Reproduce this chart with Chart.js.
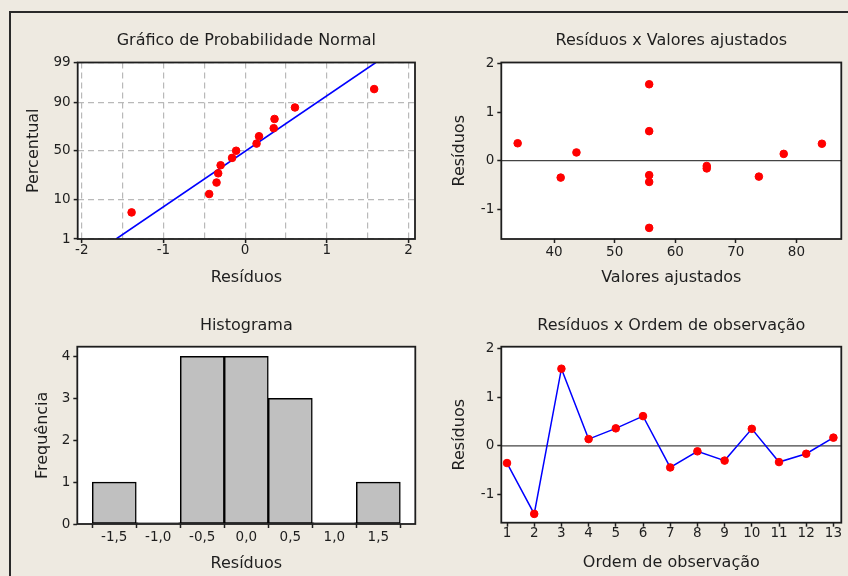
<!DOCTYPE html>
<html>
<head>
<meta charset="utf-8">
<title>Resíduos</title>
<script src="https://cdn.jsdelivr.net/npm/chart.js@4.4.1/dist/chart.umd.min.js"></script>
<style>
  body { margin: 0; background: #eeeae1; }
  #page { position: relative; width: 848px; height: 576px; overflow: hidden; background: #eeeae1; }
  #frame { position: absolute; left: 9px; top: 11px; width: 900px; height: 600px;
           border-top: 2px solid #2a2a2a; border-left: 2px solid #2a2a2a; }
  canvas { position: absolute; }
</style>
</head>
<body>
<div id="page">
  <div id="frame"></div>
  <canvas id="probChart"  width="424" height="300" style="left:0;top:0"></canvas>
  <canvas id="fitChart"   width="424" height="300" style="left:424px;top:0"></canvas>
  <canvas id="histChart"  width="424" height="276" style="left:0;top:300px"></canvas>
  <canvas id="orderChart" width="424" height="276" style="left:424px;top:300px"></canvas>
</div>
<script>
// residuals and fitted values, in observation order
const observation = [1, 2, 3, 4, 5, 6, 7, 8, 9, 10, 11, 12, 13];
const residuals   = [-0.35, -1.39, 1.58, 0.14, 0.36, 0.61, -0.44, -0.11, -0.30, 0.35, -0.33, -0.16, 0.17];
const fitted      = [41.1, 55.7, 55.7, 77.9, 34.0, 55.7, 55.7, 65.2, 55.7, 84.2, 73.8, 65.2, 43.7];

// normal probability plot: plotting positions (%) of the sorted residuals
const percentPos  = [5.2, 12.7, 20.1, 27.6, 35.1, 42.5, 50.0, 57.5, 64.9, 72.4, 79.9, 87.3, 94.8];
const percentTicks = [1, 10, 50, 90, 99];
const fitLineX    = [-1.58, 1.60];
const fitLineP    = [1, 99];

// histogram bins
const binCenters  = [-1.5, -1.0, -0.5, 0.0, 0.5, 1.0, 1.5];
const binCounts   = [1, 0, 4, 4, 3, 0, 1];

const INK = '#1e1e1e';
const RED = '#ff0000';
const BLUE = '#0000ff';

Chart.defaults.font.family = '"DejaVu Sans", Verdana, sans-serif';
Chart.defaults.color = INK;
Chart.defaults.animation = false;

// inverse normal CDF (Acklam), used for the probability axis
function probit(p) {
  const a = [-39.69683028665376, 220.9460984245205, -275.9285104469687, 138.3577518672690, -30.66479806614716, 2.506628277459239];
  const b = [-54.47609879822406, 161.5858368580409, -155.6989798598866, 66.80131188771972, -13.28068155288572];
  const c = [-0.007784894002430293, -0.3223964580411365, -2.400758277161838, -2.549732539343734, 4.374664141464968, 2.938163982698783];
  const d = [0.007784695709041462, 0.3224671290700398, 2.445134137142996, 3.754408661907416];
  const lo = 0.02425;
  if (p < lo || p > 1 - lo) {
    const q = Math.sqrt(-2 * Math.log(p < lo ? p : 1 - p));
    const z = (((((c[0]*q+c[1])*q+c[2])*q+c[3])*q+c[4])*q+c[5]) / ((((d[0]*q+d[1])*q+d[2])*q+d[3])*q+1);
    return p < lo ? z : -z;
  }
  const q = p - 0.5, r = q * q;
  return (((((a[0]*r+a[1])*r+a[2])*r+a[3])*r+a[4])*r+a[5])*q / (((((b[0]*r+b[1])*r+b[2])*r+b[3])*r+b[4])*r+1);
}

// white plot area, optional zero line, and the box around it
const panelFrame = {
  id: 'panelFrame',
  beforeDraw(chart) {
    const { ctx, chartArea: a } = chart;
    ctx.save();
    ctx.fillStyle = '#ffffff';
    ctx.fillRect(a.left, a.top, a.width, a.height);
    ctx.restore();
  },
  beforeDatasetsDraw(chart, args, opts) {
    if (!opts.zeroLine) return;
    const { ctx, chartArea: a } = chart;
    const y = chart.scales.y.getPixelForValue(0);
    ctx.save();
    ctx.strokeStyle = '#444';
    ctx.lineWidth = 1.3;
    ctx.beginPath();
    ctx.moveTo(a.left, y);
    ctx.lineTo(a.right, y);
    ctx.stroke();
    ctx.restore();
  },
  afterDraw(chart) {
    const { ctx, chartArea: a } = chart;
    ctx.save();
    ctx.strokeStyle = INK;
    ctx.lineWidth = 1.8;
    ctx.strokeRect(a.left, a.top, a.width, a.height);
    ctx.restore();
  }
};
Chart.register(panelFrame);

const tickFont = { size: 13.5, lineHeight: 1 };
const titleFont = { size: 16, lineHeight: 1.2, weight: 'normal' };

function panelTitle(text, top, bottom) {
  return { display: true, text, fullSize: false, color: INK, font: titleFont, padding: { top, bottom } };
}

function xAxis(o) {
  return {
    type: 'linear', min: o.min, max: o.max, offset: false,
    afterFit: s => { s.height = o.height; },
    border: { display: false, dash: o.dash || [] },
    grid: Object.assign({ drawOnChartArea: false, tickLength: 4, tickWidth: 1.5, tickColor: INK }, o.grid || {}),
    ticks: Object.assign({ stepSize: o.step, includeBounds: false, padding: o.tickPad, font: tickFont, color: INK, maxRotation: 0, autoSkip: false }, o.ticks || {}),
    title: { display: true, text: o.title, color: INK, font: titleFont, padding: { top: 0, bottom: o.titlePad } }
  };
}

function yAxis(o) {
  return {
    type: 'linear', min: o.min, max: o.max,
    afterFit: s => { s.width = o.width; },
    border: { display: false, dash: o.dash || [] },
    grid: Object.assign({ drawOnChartArea: false, tickLength: 4, tickWidth: 1.5, tickColor: INK }, o.grid || {}),
    ticks: Object.assign({ stepSize: o.step, includeBounds: false, padding: 3, font: tickFont, color: INK, autoSkip: false }, o.ticks || {}),
    afterBuildTicks: o.afterBuildTicks,
    title: { display: true, text: o.title, color: INK, font: titleFont, padding: { top: o.titlePad, bottom: 0 } }
  };
}

const dashGrid = { drawOnChartArea: true, color: '#b9b9b9', lineWidth: 1.2 };
const commaFmt = v => v.toFixed(1).replace('.', ',');

/* ---------- normal probability plot ---------- */
const sortedRes = [...residuals].sort((p, q) => p - q);

new Chart(document.getElementById('probChart'), {
  type: 'scatter',
  data: {
    datasets: [
      {
        data: sortedRes.map((r, i) => ({ x: r, y: probit(percentPos[i] / 100) })),
        pointRadius: 3.8, pointBorderWidth: 1, pointBackgroundColor: RED, pointBorderColor: RED
      },
      {
        data: fitLineX.map((x, i) => ({ x, y: probit(fitLineP[i] / 100) })),
        showLine: true, borderColor: BLUE, borderWidth: 1.6, pointRadius: 0
      }
    ]
  },
  options: {
    responsive: false,
    layout: { padding: { left: 0, top: 0, right: 9, bottom: 0 } },
    plugins: {
      legend: { display: false }, tooltip: { enabled: false },
      title: panelTitle('Gráfico de Probabilidade Normal', 30.9, 12.4)
    },
    scales: {
      x: xAxis({
        min: -2.05, max: 2.08, step: 0.5, height: 61, tickPad: 1, title: 'Resíduos', titlePad: 12.6,
        dash: [6, 4],
        grid: Object.assign({}, dashGrid, {
          tickColor: c => (c.tick && Number.isInteger(c.tick.value)) ? INK : 'rgba(0,0,0,0)'
        }),
        ticks: { callback: v => Number.isInteger(v) ? String(v) : '' }
      }),
      y: yAxis({
        min: probit(0.01), max: probit(0.99), width: 77.7, title: 'Percentual', titlePad: 24.4,
        dash: [6, 4], grid: dashGrid,
        afterBuildTicks: s => { s.ticks = percentTicks.map(p => ({ value: probit(p / 100) })); },
        ticks: { callback: (v, i) => String(percentTicks[i]) }
      })
    }
  }
});

/* ---------- residuals vs fitted values ---------- */
new Chart(document.getElementById('fitChart'), {
  type: 'scatter',
  data: {
    datasets: [{
      data: fitted.map((f, i) => ({ x: f, y: residuals[i] })),
      pointRadius: 3.8, pointBorderWidth: 1, pointBackgroundColor: RED, pointBorderColor: RED
    }]
  },
  options: {
    responsive: false,
    layout: { padding: { left: 0, top: 0, right: 6.7, bottom: 0 } },
    plugins: {
      legend: { display: false }, tooltip: { enabled: false },
      title: panelTitle('Resíduos x Valores ajustados', 30.9, 12.4),
      panelFrame: { zeroLine: true }
    },
    scales: {
      x: xAxis({ min: 31.3, max: 87.4, step: 10, height: 61, tickPad: 2.7, title: 'Valores ajustados', titlePad: 12.6 }),
      y: yAxis({ min: -1.62, max: 2.03, step: 1, width: 77.3, title: 'Resíduos', titlePad: 25.9 })
    }
  }
});

/* ---------- histogram ---------- */
new Chart(document.getElementById('histChart'), {
  type: 'bar',
  data: {
    datasets: [{
      data: binCenters.map((b, i) => ({ x: b, y: binCounts[i] })),
      backgroundColor: '#c0c0c0', borderColor: '#000', borderWidth: 1.5, borderSkipped: false,
      minBarLength: 1.5, categoryPercentage: 1, barPercentage: 1
    }]
  },
  options: {
    responsive: false,
    layout: { padding: { left: 0, top: 0, right: 8.7, bottom: 0 } },
    plugins: {
      legend: { display: false }, tooltip: { enabled: false },
      title: panelTitle('Histograma', 16.6, 10.9)
    },
    scales: {
      x: xAxis({ min: -1.92, max: 1.92, step: 0.5, height: 52, tickPad: 2.7, title: 'Resíduos', titlePad: 2.6,
                 ticks: { callback: commaFmt } }),
      y: yAxis({ min: 0, max: 4.23, step: 1, width: 77.3, title: 'Frequência', titlePad: 32.9 })
    }
  }
});

/* ---------- residuals vs observation order ---------- */
new Chart(document.getElementById('orderChart'), {
  type: 'scatter',
  data: {
    datasets: [{
      data: observation.map((o, i) => ({ x: o, y: residuals[i] })),
      showLine: true, borderColor: BLUE, borderWidth: 1.5,
      pointRadius: 3.8, pointBorderWidth: 1, pointBackgroundColor: RED, pointBorderColor: RED
    }]
  },
  options: {
    responsive: false,
    layout: { padding: { left: 0, top: 0, right: 6.7, bottom: 0 } },
    plugins: {
      legend: { display: false }, tooltip: { enabled: false },
      title: panelTitle('Resíduos x Ordem de observação', 16.6, 10.9),
      panelFrame: { zeroLine: true }
    },
    scales: {
      x: xAxis({ min: 0.79, max: 13.29, step: 1, height: 53.3, tickPad: 0, title: 'Ordem de observação', titlePad: 3.6 }),
      y: yAxis({ min: -1.57, max: 2.03, step: 1, width: 77.3, title: 'Resíduos', titlePad: 25.9 })
    }
  }
});
</script>
</body>
</html>
